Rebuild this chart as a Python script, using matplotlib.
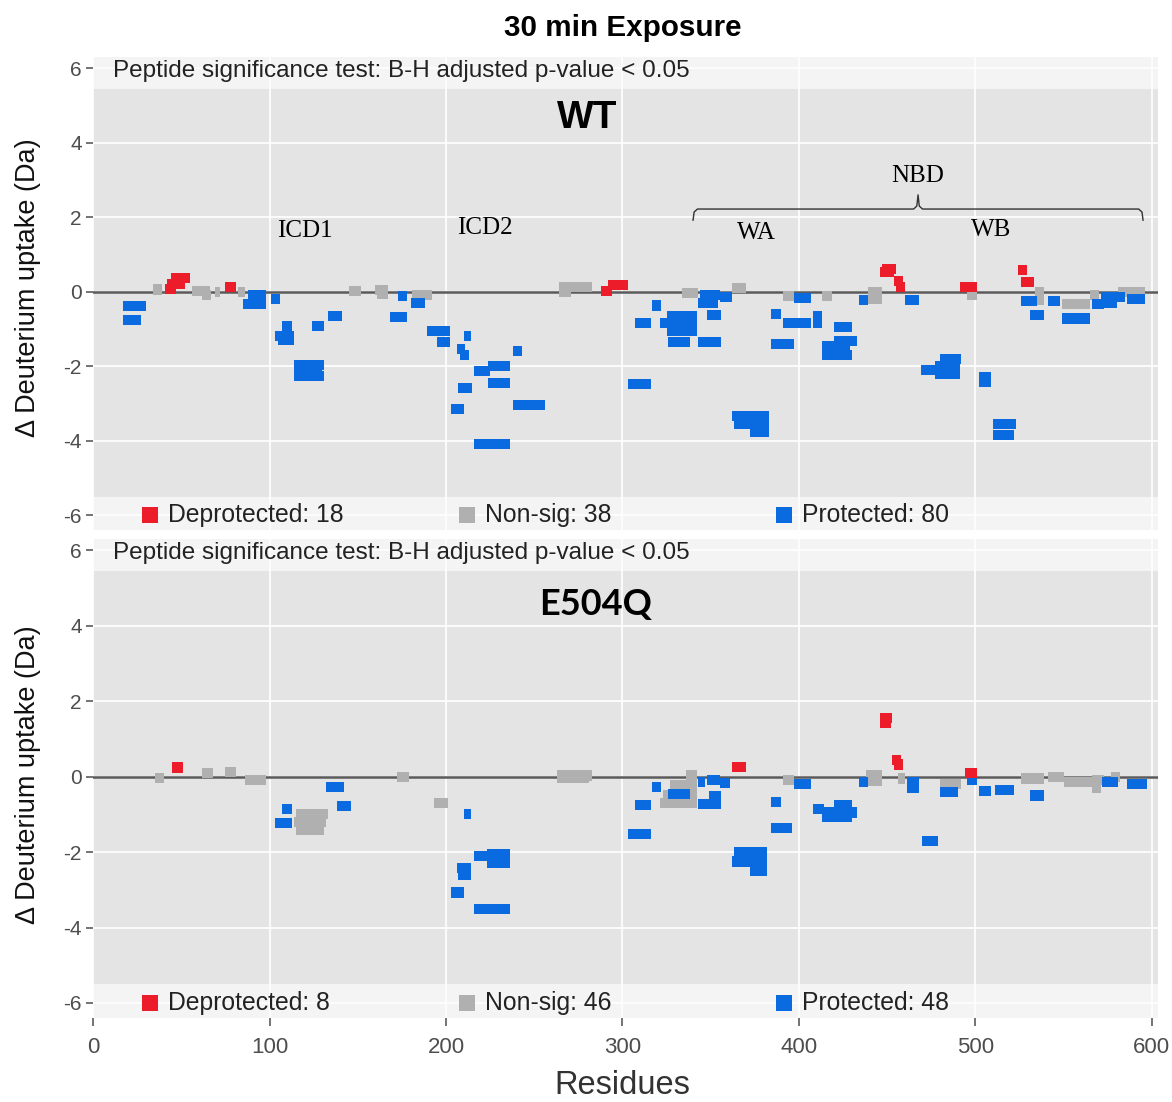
import matplotlib.pyplot as plt

plt.rcParams['font.family'] = ['Liberation Sans', 'DejaVu Sans']

# ---- WT, 30 min: peptides as (start residue, end residue, delta uptake in Da)
wt_dep_start = [44, 42, 41, 75, 292, 288, 447, 446, 454, 455, 491, 524, 526]
wt_dep_end = [55, 52, 47, 81, 303, 294, 455, 454, 459, 460, 501, 529, 533]
wt_dep_dd = [0.38, 0.20, 0.07, 0.12, 0.17, 0.02, 0.62, 0.52, 0.30, 0.12, 0.12, 0.58, 0.25]

wt_ns_start = [34, 56, 62, 69, 82, 145, 160, 161, 181, 264, 264, 334, 362, 391, 413,
               439, 439, 495, 534, 534, 549, 565, 581]
wt_ns_end = [39, 66, 67, 72, 86, 152, 167, 167, 192, 283, 271, 343, 370, 397, 419,
             447, 447, 501, 539, 539, 565, 570, 596]
wt_ns_dd = [0.06, 0.03, -0.09, 0.0, 0.0, 0.03, 0.05, -0.05, -0.08, 0.12, -0.02, -0.04, 0.10,
            -0.12, -0.12, 0.0, -0.20, -0.10, 0.0, -0.22, -0.33, -0.10, 0.0]

wt_prot_start = [17, 17, 88, 85, 101, 107, 103, 105, 114, 114, 114, 124, 133, 173, 168,
                 180, 189, 195, 210, 206, 208, 238, 216, 224, 224, 207, 203, 238, 216,
                 344, 343, 355, 317, 307, 325, 321, 325, 326, 348, 343, 303, 362, 363,
                 372, 397, 384, 391, 408, 408, 384, 420, 420, 413, 413, 434, 460, 469,
                 480, 477, 477, 502, 502, 510, 510, 526, 531, 541, 549, 566, 571, 571,
                 580, 586]
wt_prot_end = [30, 27, 98, 98, 106, 113, 114, 114, 131, 130, 131, 131, 141, 178, 178,
               188, 202, 202, 214, 211, 213, 243, 225, 236, 236, 215, 210, 256, 236,
               355, 354, 362, 322, 316, 342, 342, 342, 338, 356, 356, 316, 383, 383,
               383, 407, 390, 407, 413, 413, 397, 430, 433, 429, 430, 439, 468, 479,
               492, 491, 491, 509, 509, 523, 522, 535, 539, 548, 565, 573, 580, 580,
               585, 596]
wt_prot_dd = [-0.39, -0.75, -0.10, -0.32, -0.20, -0.93, -1.20, -1.30, -1.98, -2.10, -2.27,
              -0.91, -0.65, -0.12, -0.68, -0.30, -1.05, -1.35, -1.20, -1.55, -1.70, -1.58,
              -2.12, -2.00, -2.45, -2.58, -3.14, -3.05, -4.09,
              -0.10, -0.30, -0.13, -0.37, -0.84, -0.66, -0.84, -1.05, -1.36, -0.62, -1.36,
              -2.48, -3.33, -3.54, -3.77, -0.18, -0.60, -0.84, -0.65, -0.85, -1.41, -0.95,
              -1.33, -1.45, -1.70, -0.22, -0.22, -2.10, -1.80, -2.00, -2.20, -2.30, -2.42,
              -3.55, -3.85, -0.25, -0.62, -0.25, -0.72, -0.32, -0.15, -0.30, -0.15, -0.20]

# ---- E504Q, 30 min
mut_dep_start = [45, 362, 446, 446, 453, 454, 494]
mut_dep_end = [51, 370, 453, 452, 458, 459, 501]
mut_dep_dd = [0.24, 0.25, 1.55, 1.42, 0.45, 0.32, 0.10]

mut_ns_start = [35, 62, 75, 86, 115, 114, 115, 172, 193, 263, 263, 336, 327, 321, 323,
                391, 438, 438, 456, 480, 526, 541, 550, 566, 566, 577]
mut_ns_end = [40, 68, 81, 98, 133, 132, 131, 179, 201, 283, 281, 342, 342, 342, 342,
              397, 447, 447, 460, 492, 539, 550, 566, 573, 571, 582]
mut_ns_dd = [-0.04, 0.09, 0.12, -0.09, -1.00, -1.20, -1.40, 0.0, -0.70, 0.03, -0.03, 0.05,
             -0.22, -0.70, -0.50, -0.10, 0.05, -0.12, -0.05, -0.20, -0.05, 0.0, -0.15,
             -0.10, -0.30, 0.0]

mut_prot_start = [132, 138, 107, 103, 210, 216, 223, 223, 206, 207, 203, 216,
                  326, 317, 307, 303, 343, 348, 355, 349, 343, 363, 362, 372, 384, 384,
                  397, 420, 408, 413, 413, 434, 461, 461, 480, 495, 502, 511, 531, 572,
                  586, 470]
mut_prot_end = [142, 146, 113, 113, 214, 225, 236, 236, 214, 214, 210, 236,
                338, 322, 316, 316, 347, 355, 361, 356, 356, 382, 382, 382, 390, 396,
                407, 430, 414, 433, 430, 439, 468, 468, 490, 501, 509, 522, 539, 581,
                597, 479]
mut_prot_dd = [-0.27, -0.77, -0.85, -1.24, -1.00, -2.10, -2.05, -2.30, -2.43, -2.60, -3.07,
               -3.52,
               -0.45, -0.27, -0.75, -1.52, -0.15, -0.10, -0.17, -0.52, -0.72, -2.00, -2.25,
               -2.50, -0.68, -1.37, -0.20, -0.75, -0.85, -0.95, -1.08, -0.15, -0.15, -0.30,
               -0.40, -0.10, -0.38, -0.35, -0.50, -0.15, -0.20, -1.70]

categories = ['Deprotected', 'Non-sig', 'Protected']
wt_counts = [18, 38, 80]
mut_counts = [8, 46, 48]
colors = {'Deprotected': '#ec1c2a', 'Non-sig': '#b0b0b0', 'Protected': '#0a6be0'}

domains = ['ICD1', 'ICD2', 'WA', 'WB', 'NBD']
domain_x = [120, 222, 376, 509, 467]
domain_y = [1.64, 1.72, 1.58, 1.66, 3.1]

BAR_H = 0.27
TXT = '#4d4d4d'


def draw_peptides(ax, start, end, dd, color):
    widths = [e - s for s, e in zip(start, end)]
    bottoms = [d - BAR_H / 2 for d in dd]
    ax.bar(start, BAR_H, width=widths, bottom=bottoms, align='edge',
           color=color, linewidth=0, zorder=3)


def setup_panel(ax, counts):
    ax.set_facecolor('#e4e4e4')
    ax.set_xlim(0, 603.5)
    ax.set_ylim(-6.4, 6.3)
    ax.set_xticks(range(0, 601, 100))
    ax.set_yticks([-6, -4, -2, 0, 2, 4, 6])
    ax.set_yticklabels(['-6', '-4', '-2', '0', '2', '4', '6'])
    ax.grid(color='white', linewidth=1.2)
    ax.set_axisbelow(True)
    for sp in ax.spines.values():
        sp.set_visible(False)
    ax.tick_params(axis='y', length=5, width=1.1, color=TXT, labelcolor=TXT,
                   labelsize=15, pad=3)
    # light strips at top and bottom
    ax.axhspan(5.45, 6.3, color='white', alpha=0.6, lw=0, zorder=1)
    ax.axhspan(-6.4, -5.5, color='white', alpha=0.6, lw=0, zorder=1)
    ax.axhline(0, color='#5a5a5a', lw=1.8, zorder=2)
    ax.text(11.3, 5.92, 'Peptide significance test: B-H adjusted p-value < 0.05',
            fontsize=17.5, color='#222222', va='center', ha='left', zorder=4)
    # legend row
    for cat, n, xm in zip(categories, counts, [32.3, 211.9, 391.5]):
        ax.scatter([xm], [-6.0], marker='s', s=125, color=colors[cat], lw=0, zorder=4)
        ax.text(xm + 10, -6.0, f'{cat}: {n}', fontsize=17.8, color='#222222',
                va='center', ha='left', zorder=4)


fig = plt.figure(figsize=(11.72, 11.02), dpi=100)
ax1 = fig.add_axes([0.0794, 0.519, 0.9087, 0.4292])
ax2 = fig.add_axes([0.0794, 0.0762, 0.9087, 0.4347])

setup_panel(ax1, wt_counts)
setup_panel(ax2, mut_counts)

draw_peptides(ax1, wt_ns_start, wt_ns_end, wt_ns_dd, colors['Non-sig'])
draw_peptides(ax1, wt_prot_start, wt_prot_end, wt_prot_dd, colors['Protected'])
draw_peptides(ax1, wt_dep_start, wt_dep_end, wt_dep_dd, colors['Deprotected'])

draw_peptides(ax2, mut_ns_start, mut_ns_end, mut_ns_dd, colors['Non-sig'])
draw_peptides(ax2, mut_prot_start, mut_prot_end, mut_prot_dd, colors['Protected'])
draw_peptides(ax2, mut_dep_start, mut_dep_end, mut_dep_dd, colors['Deprotected'])

ax1.tick_params(axis='x', length=0, labelbottom=False)
ax2.tick_params(axis='x', length=6, width=1.1, color=TXT, labelcolor=TXT,
                labelsize=16, pad=8)

ax1.text(280, 4.66, 'WT', fontsize=28, fontweight='bold', ha='center', va='center')
ax2.text(285, 4.55, 'E504Q', fontsize=26, fontweight='bold', ha='center', va='center',
         family=['Lato', 'Liberation Sans'])

# domain labels and the NBD brace
for name, xd, yd in zip(domains, domain_x, domain_y):
    ax1.text(xd, yd, name, fontsize=18, family=['Liberation Serif', 'DejaVu Serif'],
             ha='center', va='center', zorder=4)
brace_x = [340, 340.6, 342.5, 465, 466.8, 467.5, 468.2, 470, 592.5, 594.4, 595]
brace_y = [1.92, 2.14, 2.22, 2.22, 2.3, 2.6, 2.3, 2.22, 2.22, 2.14, 1.92]
ax1.plot(brace_x, brace_y, color='#333333', lw=1, zorder=4)

fig.text(0.531, 0.9746, '30 min Exposure', fontsize=21.3, fontweight='bold',
         ha='center', va='center')
for yc in [0.739, 0.297]:
    fig.text(0.024, yc, 'Δ Deuterium uptake (Da)', fontsize=19.5, rotation=90,
             ha='center', va='center', color='#111111')
fig.text(0.531, 0.0154, 'Residues', fontsize=23.5, color='#333333', ha='center', va='center')

fig.savefig('out.png', dpi=100)
